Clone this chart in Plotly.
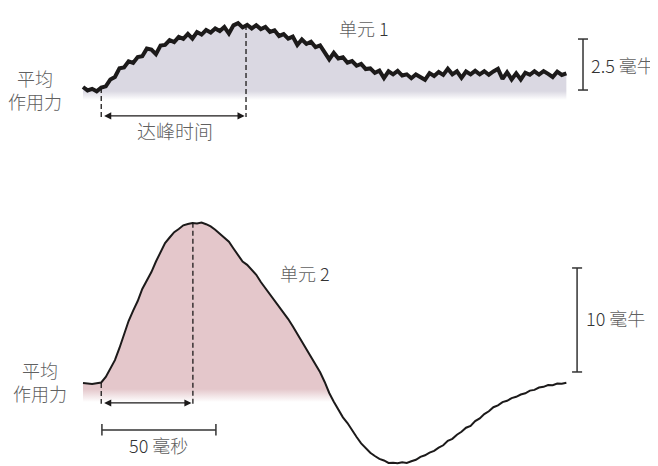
import numpy as np
import plotly.graph_objects as go

# sample spacing of both records (ms)
dt = 2.0

# unit 1 force (mN), one value every 2 ms
unit1_force = [
    0.05, -0.12, -0.04, -0.16, 0.02, 0.08, 0.42, 0.54, 0.97, 1.01,
    1.31, 1.23, 1.52, 1.56, 1.93, 1.88, 1.66, 2.08, 2.11, 2.35,
    2.25, 2.50, 2.41, 2.65, 2.42, 2.74, 2.62, 2.84, 2.72, 2.92,
    2.79, 2.99, 2.67, 3.07, 3.18, 2.97, 3.09, 2.92, 3.08, 2.89,
    2.99, 2.75, 2.83, 2.55, 2.64, 2.42, 2.52, 2.11, 2.38, 2.16,
    2.27, 2.00, 2.09, 1.77, 1.40, 1.72, 1.45, 1.51, 1.24, 1.32,
    1.09, 1.18, 0.93, 0.96, 0.74, 0.85, 0.49, 0.82, 0.67, 0.84,
    0.61, 0.67, 0.48, 0.66, 0.55, 0.40, 0.73, 0.59, 0.78, 0.64,
    0.94, 0.67, 0.82, 0.50, 0.81, 0.67, 0.84, 0.67, 0.82, 0.65,
    0.81, 0.94, 0.45, 0.77, 0.42, 0.72, 0.42, 0.75, 0.65, 0.82,
    0.66, 0.83, 0.69, 0.54, 0.80, 0.64, 0.72,
]

# unit 2 force (mN), one value every 2 ms
unit2_force = [
    0.00, -0.08, -0.10, -0.02, 0.05, 0.58, 1.35, 2.20, 3.37, 4.76,
    5.96, 6.96, 7.88, 9.04, 9.85, 10.67, 11.68, 12.64, 13.46, 13.99,
    14.50, 14.81, 15.16, 15.29, 15.38, 15.34, 15.42, 15.27, 15.05, 14.74,
    14.33, 13.99, 13.58, 12.93, 12.34, 11.68, 11.36, 10.91, 10.40, 9.71,
    9.12, 8.46, 7.90, 7.36, 6.76, 6.15, 5.45, 4.71, 4.01, 3.27,
    2.57, 1.83, 1.03, 0.10, -0.96, -1.80, -2.50, -3.30, -3.85, -4.55,
    -5.19, -5.80, -6.25, -6.70, -7.02, -7.30, -7.45, -7.68, -7.66, -7.72,
    -7.62, -7.68, -7.52, -7.38, -7.10, -6.95, -6.70, -6.52, -6.22, -5.99,
    -5.55, -5.37, -4.97, -4.69, -4.30, -4.12, -3.66, -3.40, -2.99, -2.72,
    -2.33, -2.15, -1.84, -1.71, -1.45, -1.33, -1.11, -0.99, -0.73, -0.66,
    -0.44, -0.37, -0.20, -0.22, -0.06, -0.08, 0.02,
]

t1 = np.arange(len(unit1_force)) * dt
t2 = np.arange(len(unit2_force)) * dt
f1 = np.array(unit1_force)
f2 = np.array(unit2_force)

peak1_ms = 71.5
peak2_ms = 48.2
onset_ms = 8.0

TRACE = "#1c1a1a"
CJK_FONT = "Noto Sans CJK SC"

# 填充下缘 (mN)，渐隐到白色
fill1_floor, fill1_fade = -0.59, -0.15
fill2_floor, fill2_fade = -1.83, -0.58

# unit 2 is shaded only up to where it first falls through the floor
cut = int(np.argmax(f2 < fill2_floor)) + 1
t2_fill = t2[:cut]
f2_fill = np.maximum(f2[:cut], fill2_floor)

fig = go.Figure()

# unit 1 (top record)
fig.add_trace(go.Scatter(x=t1, y=np.full(len(t1), fill1_floor), mode="lines",
                         line=dict(width=0), hoverinfo="skip", yaxis="y"))
fig.add_trace(go.Scatter(x=t1, y=f1, mode="lines", line=dict(width=0),
                         fill="tonexty",
                         fillgradient=dict(type="vertical",
                                           colorscale=[[0, "white"], [1, "#dad8e2"]],
                                           start=fill1_floor, stop=fill1_fade),
                         hoverinfo="skip", yaxis="y"))
fig.add_trace(go.Scatter(x=t1, y=f1, mode="lines",
                         line=dict(color=TRACE, width=4.0), yaxis="y"))

# unit 2 (bottom record)
fig.add_trace(go.Scatter(x=t2_fill, y=np.full(len(t2_fill), fill2_floor), mode="lines",
                         line=dict(width=0), hoverinfo="skip", yaxis="y2"))
fig.add_trace(go.Scatter(x=t2_fill, y=f2_fill, mode="lines",
                         line=dict(width=0), fill="tonexty",
                         fillgradient=dict(type="vertical",
                                           colorscale=[[0, "white"], [1, "#e4c7cb"]],
                                           start=fill2_floor, stop=fill2_fade),
                         hoverinfo="skip", yaxis="y2"))
fig.add_trace(go.Scatter(x=t2, y=f2, mode="lines",
                         line=dict(color=TRACE, width=2.0), yaxis="y2"))

dash = dict(color=TRACE, width=1.3, dash="5px,3px")
bar = dict(color="#333333", width=1.5)
shapes = [
    # 达峰时间 markers
    dict(type="line", xref="x", yref="y", x0=onset_ms, x1=onset_ms, y0=0, y1=-1.42, line=dash),
    dict(type="line", xref="x", yref="y", x0=peak1_ms, x1=peak1_ms, y0=3.09, y1=-1.42, line=dash),
    dict(type="line", xref="x", yref="y2", x0=onset_ms, x1=onset_ms, y0=0, y1=-2.0, line=dash),
    dict(type="line", xref="x", yref="y2", x0=peak2_ms, x1=peak2_ms, y0=15.4, y1=-2.0, line=dash),
    # 2.5 mN bar
    dict(type="line", xref="x", yref="y", x0=219.3, x1=219.3, y0=-0.1, y1=2.4, line=bar),
    dict(type="line", xref="x", yref="y", x0=217.1, x1=221.5, y0=2.4, y1=2.4, line=bar),
    dict(type="line", xref="x", yref="y", x0=217.1, x1=221.5, y0=-0.1, y1=-0.1, line=bar),
    # 10 mN bar
    dict(type="line", xref="x", yref="y2", x0=216.7, x1=216.7, y0=1.06, y1=11.06, line=bar),
    dict(type="line", xref="x", yref="y2", x0=214.5, x1=218.9, y0=11.06, y1=11.06, line=bar),
    dict(type="line", xref="x", yref="y2", x0=214.5, x1=218.9, y0=1.06, y1=1.06, line=bar),
    # 50 ms bar
    dict(type="line", xref="x", yref="y2", x0=onset_ms + 0.3, x1=onset_ms + 50.3, y0=-4.52, y1=-4.52, line=bar),
    dict(type="line", xref="x", yref="y2", x0=onset_ms + 0.3, x1=onset_ms + 0.3, y0=-3.95, y1=-5.05, line=bar),
    dict(type="line", xref="x", yref="y2", x0=onset_ms + 50.3, x1=onset_ms + 50.3, y0=-3.95, y1=-5.05, line=bar),
]


def label(text, x, y, yref, size=18, xanchor="center"):
    return dict(text=text, x=x, y=y, xref="x", yref=yref, showarrow=False,
                xanchor=xanchor, yanchor="middle", borderpad=0,
                font=dict(family=CJK_FONT, size=size, color="#606060", weight=300))


def arrow(x0, x1, y, yref):
    return dict(x=x1, y=y, ax=x0, ay=y, xref="x", yref=yref, axref="x", ayref=yref,
                text="", showarrow=True, arrowside="end+start", arrowhead=2,
                arrowsize=1.1, arrowwidth=1.3, arrowcolor=TRACE)


annotations = [
    label("平均<br>作用力", -20.9, -0.07, "y"),
    label("平均<br>作用力", -18.9, 0.14, "y2"),
    label("达峰时间", 40.4, -2.06, "y", size=19),
    label("单元 <span style='color:#333'>1</span>", 123.3, 2.94, "y"),
    label("单元 <span style='color:#333'>2</span>", 97.4, 10.58, "y2"),
    label("<span style='color:#333'>2.5</span> 毫牛", 222.4, 1.13, "y", xanchor="left"),
    label("<span style='color:#333'>10</span> 毫牛", 220.2, 6.25, "y2", xanchor="left"),
    label("<span style='color:#333'>50</span> 毫秒", 32.9, -5.96, "y2"),
    arrow(onset_ms + 0.6, peak1_ms - 0.6, -1.37, "y"),
    arrow(onset_ms + 0.6, peak2_ms - 0.6, -1.92, "y2"),
]

# the page puts the figure 8 px in from the corner, so the figure is 8 px smaller
fig.update_layout(
    width=650, height=458,
    margin=dict(l=0, r=0, t=0, b=0),
    paper_bgcolor="white", plot_bgcolor="white",
    showlegend=False,
    xaxis=dict(range=[-32.89, 252.19], visible=False, fixedrange=True),
    yaxis=dict(domain=[0.6900, 1.0], range=[-3.039, 3.922], visible=False, fixedrange=True),
    yaxis2=dict(domain=[0.0, 0.6463], range=[-7.98, 20.48], visible=False,
                fixedrange=True, anchor="x"),
    shapes=shapes,
    annotations=annotations,
)

fig.write_html("out.html")
